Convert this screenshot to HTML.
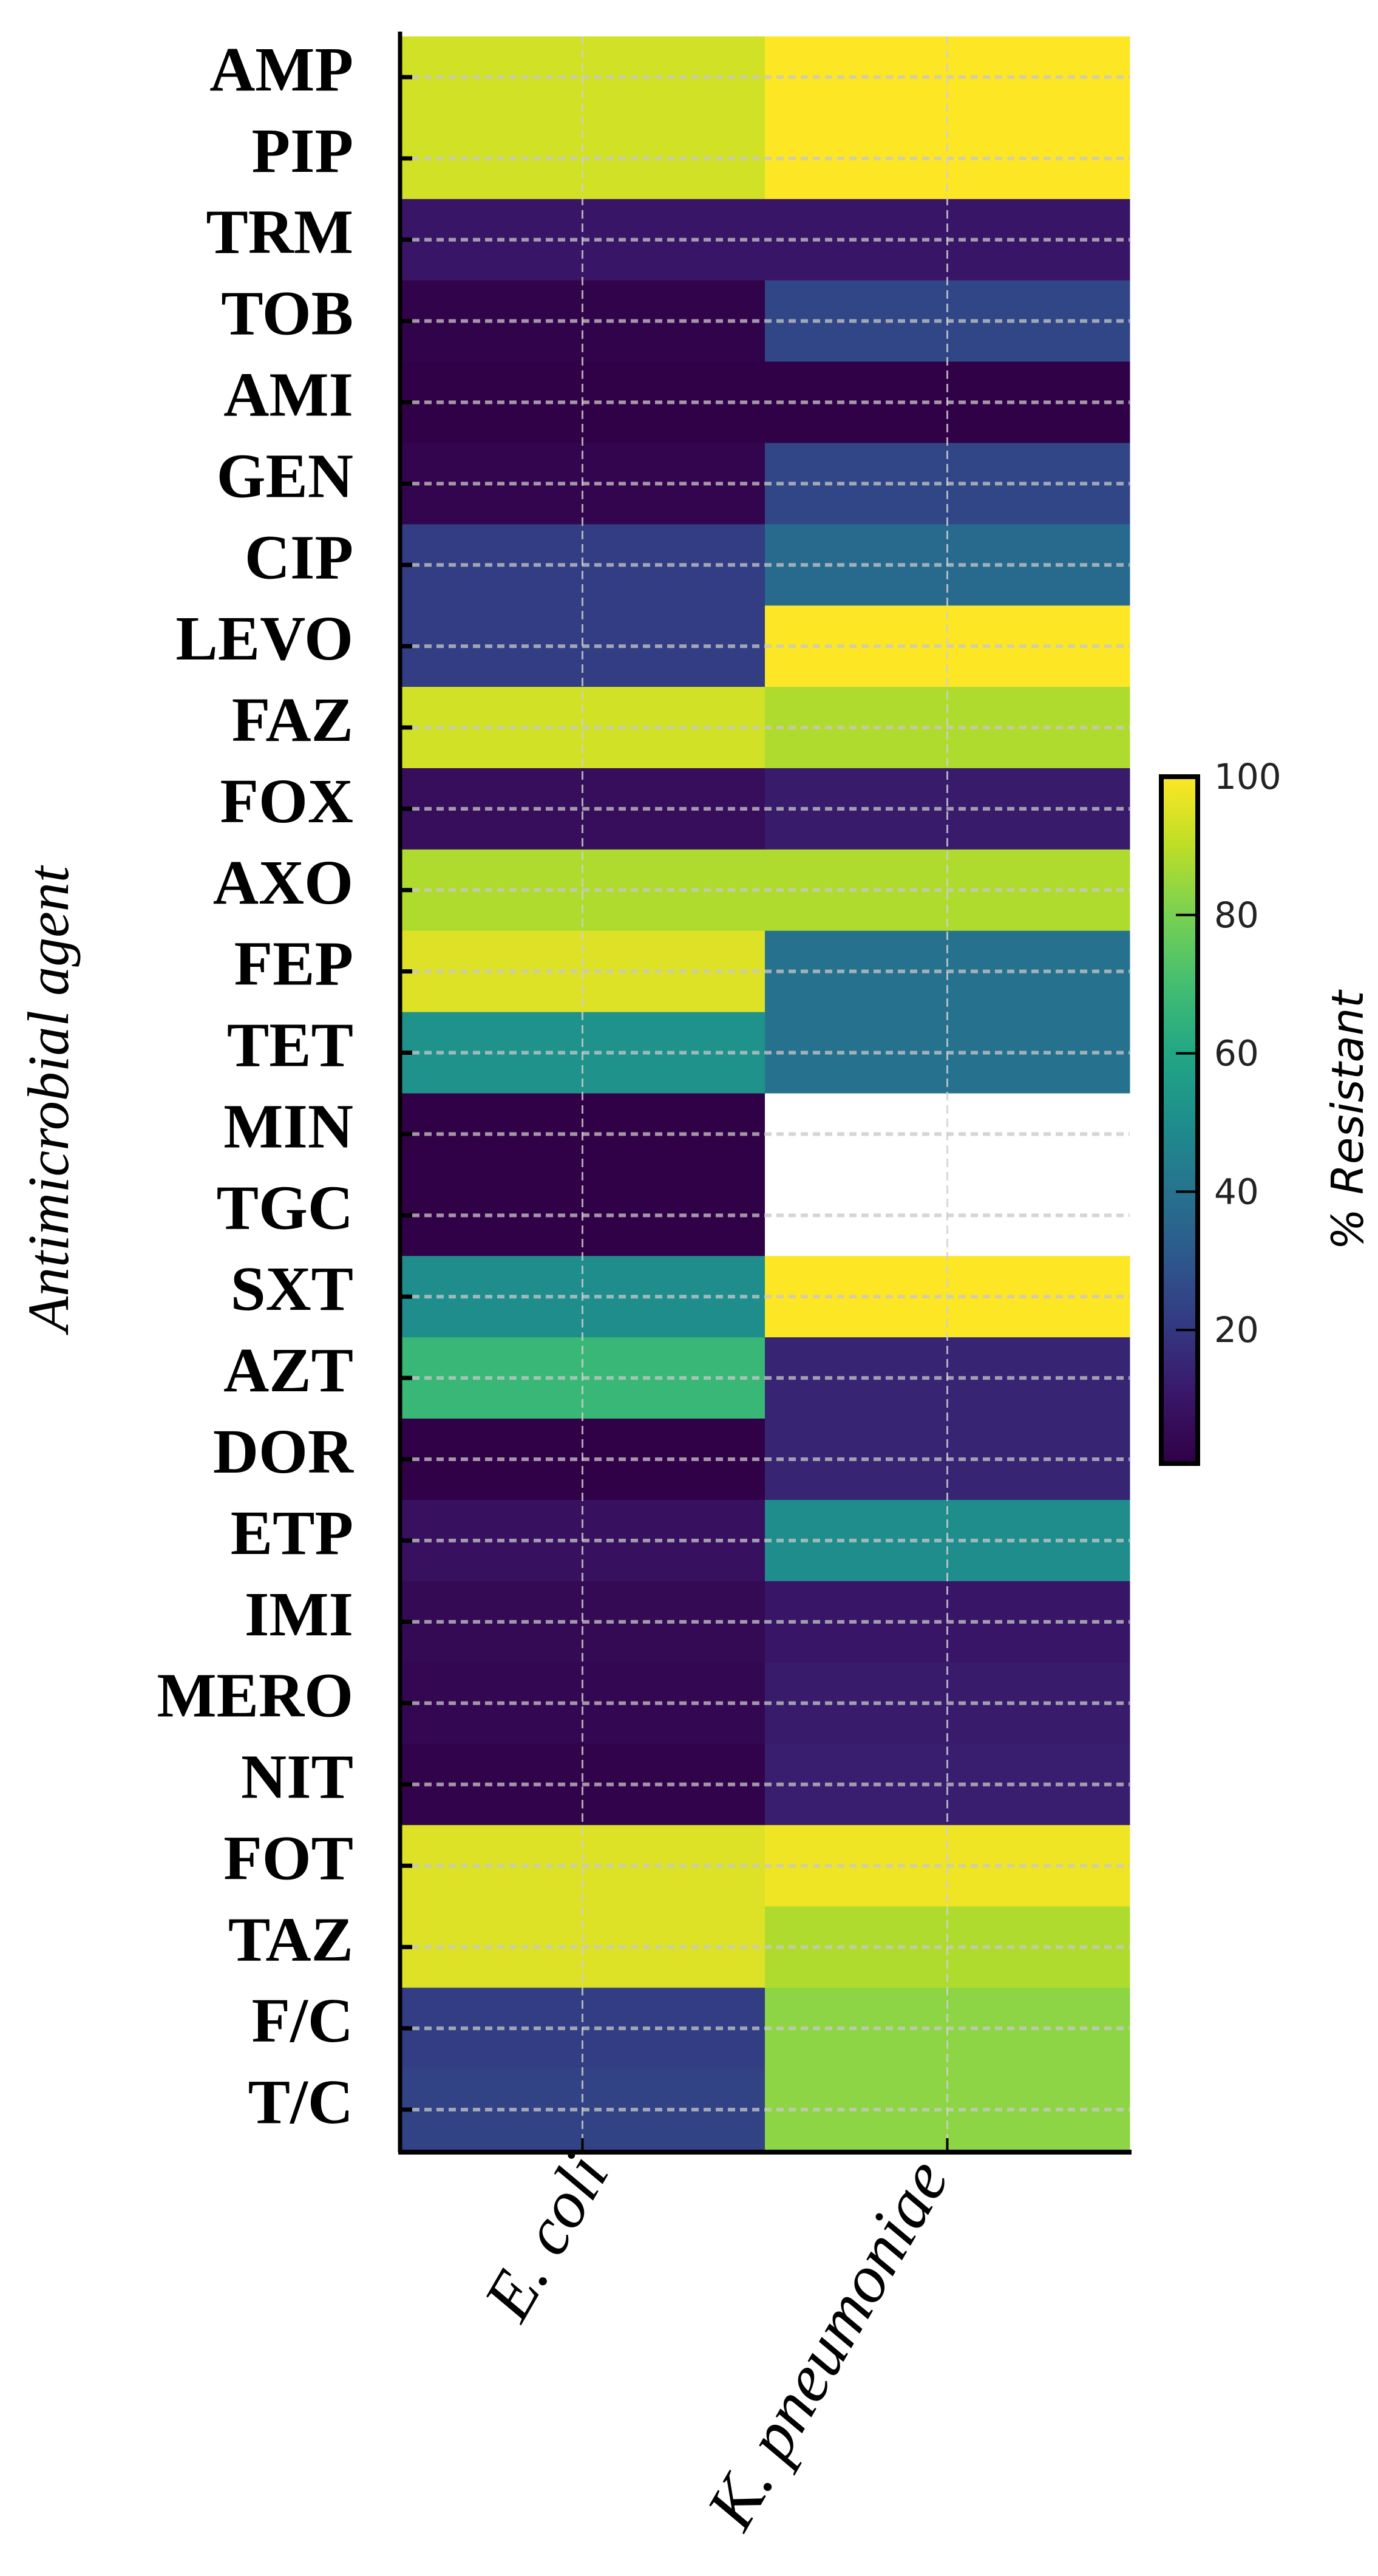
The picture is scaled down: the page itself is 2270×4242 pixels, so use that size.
<!DOCTYPE html>
<html><head><meta charset="utf-8"><style>
html,body{margin:0;padding:0;background:#fff;}
svg{display:block;}
</style></head><body>
<svg id="chart" width="2270" height="4242" xmlns="http://www.w3.org/2000/svg">
<defs>
<linearGradient id="vgrad" x1="0" y1="1" x2="0" y2="0"></linearGradient>
</defs>
</svg>
<script>
const agents = ["AMP","PIP","TRM","TOB","AMI","GEN","CIP","LEVO","FAZ","FOX","AXO","FEP","TET","MIN","TGC","SXT","AZT","DOR","ETP","IMI","MERO","NIT","FOT","TAZ","F/C","T/C"];
const organisms = ["E. coli","K. pneumoniae"];
const ecoliValues = [93,93,10,2,1,3,22,22,93,7,88,95,52,1,1,50,67,1,8,5,4,2,95,95,22,24];
const kpneuValues = [100,100,10,25,1,25,37,100,88,12,88,40,40,null,null,100,15,15,50,10,12,13,98,88,83,83];
const colorbarTicks = [20,40,60,80,100];

const NS="http://www.w3.org/2000/svg";
const svg=document.getElementById('chart');
const vmin=0.7,vmax=100;
const X0=659,X1=1861,Y0=60,Y1=3541;
const nR=agents.length,nC=organisms.length;
const rowH=(Y1-Y0)/nR,colW=(X1-X0)/nC;
const yRow=i=>Y0+i*rowH;
const xCol=j=>X0+j*colW;
const viridis=[[48,0,70],[58,22,105],[52,56,130],[45,88,140],[38,115,142],[30,142,140],[34,167,132],[68,190,112],[121,209,81],[189,222,38],[253,231,37]];
function color(v){
  let t=(v-vmin)/(vmax-vmin);t=Math.max(0,Math.min(1,t));
  const p=t*(viridis.length-1),i=Math.min(Math.floor(p),viridis.length-2),f=p-i;
  const c=viridis[i].map((a,k)=>Math.round(a+(viridis[i+1][k]-a)*f));
  return `rgb(${c[0]},${c[1]},${c[2]})`;
}
function mk(tag,attrs,parent){const e=document.createElementNS(NS,tag);for(const k in attrs)e.setAttribute(k,attrs[k]);(parent||svg).appendChild(e);return e;}

const series=[ecoliValues,kpneuValues];
for(let j=0;j<nC;j++){
  for(let i=0;i<nR;i++){
    const v=series[j][i];
    const r=mk('rect',{x:xCol(j),y:yRow(i),width:colW+0.5,height:rowH+0.5,fill:v==null?'#ffffff':color(v)});
    
    
  }
}
// grid
for(let i=0;i<nR;i++){
  const y=yRow(i)+rowH/2;
  const g=mk('line',{x1:X0,x2:X1,y1:y,y2:y,stroke:'#c8c8c8','stroke-width':6,'stroke-dasharray':'12 8',opacity:0.75});
  
  
  const t=mk('line',{x1:X0,x2:X0+20,y1:y,y2:y,stroke:'#000','stroke-width':7});
  
  
  const lab=mk('text',{x:582,y:y+22,'text-anchor':'end','font-family':'"Liberation Serif",serif','font-weight':'bold','font-size':104,fill:'#000'});
  lab.textContent=agents[i];
  
  
}
for(let j=0;j<nC;j++){
  const x=xCol(j)+colW/2;
  const g=mk('line',{x1:x,x2:x,y1:Y0,y2:Y1,stroke:'#d0d0d0','stroke-width':3,'stroke-dasharray':'14 8',opacity:0.8});
  
  
  const t=mk('line',{x1:x,x2:x,y1:Y1-20,y2:Y1,stroke:'#000','stroke-width':4});
  
  
}
const xl1=mk('text',{transform:'translate(1005,3575) rotate(-60)','text-anchor':'end','font-family':'"Liberation Serif",serif','font-style':'italic','font-size':112,fill:'#000'});
xl1.textContent=organisms[0];


const xl2=mk('text',{transform:'translate(1565,3585) rotate(-60)','text-anchor':'end','font-family':'"Liberation Serif",serif','font-style':'italic','font-size':112,fill:'#000'});
xl2.textContent=organisms[1];


// axes
const ax1=mk('line',{x1:X0,x2:X0,y1:52,y2:Y1+3,stroke:'#000','stroke-width':7});


const ax2=mk('line',{x1:X0-3,x2:X1+3,y1:Y1+3,y2:Y1+3,stroke:'#000','stroke-width':8});


const yt=mk('text',{transform:'translate(112,1810) rotate(-90)','text-anchor':'middle','font-family':'"Liberation Serif",serif','font-style':'italic','font-size':96,fill:'#000'});
yt.textContent='Antimicrobial agent';


// colorbar
const CB0=1279,CB1=2410,CBX=1913,CBW=60;
const grad=document.getElementById('vgrad');
viridis.forEach((c,k)=>{mk('stop',{offset:(k/(viridis.length-1)),'stop-color':`rgb(${c[0]},${c[1]},${c[2]})`},grad);});
const cbY=v=>CB1-(v-vmin)/(vmax-vmin)*(CB1-CB0);
const cb=mk('rect',{x:CBX,y:CB0,width:CBW,height:CB1-CB0,fill:'url(#vgrad)',stroke:'#000','stroke-width':8});


colorbarTicks.forEach(v=>{
  const y=cbY(v);
  const t=mk('line',{x1:CBX+CBW-36,x2:CBX+CBW,y1:y,y2:y,stroke:'#000','stroke-width':4});
  
  
  const l=mk('text',{x:2000,y:y+20,'font-family':'"DejaVu Sans",sans-serif','font-size':58,fill:'#222'});
  l.textContent=v;
  
  
});
const ct=mk('text',{transform:'translate(2245,1845) rotate(-90)','text-anchor':'middle','font-family':'"DejaVu Sans",sans-serif','font-style':'italic','font-size':72,fill:'#000'});
ct.textContent='% Resistant';


</script>
</body></html>
